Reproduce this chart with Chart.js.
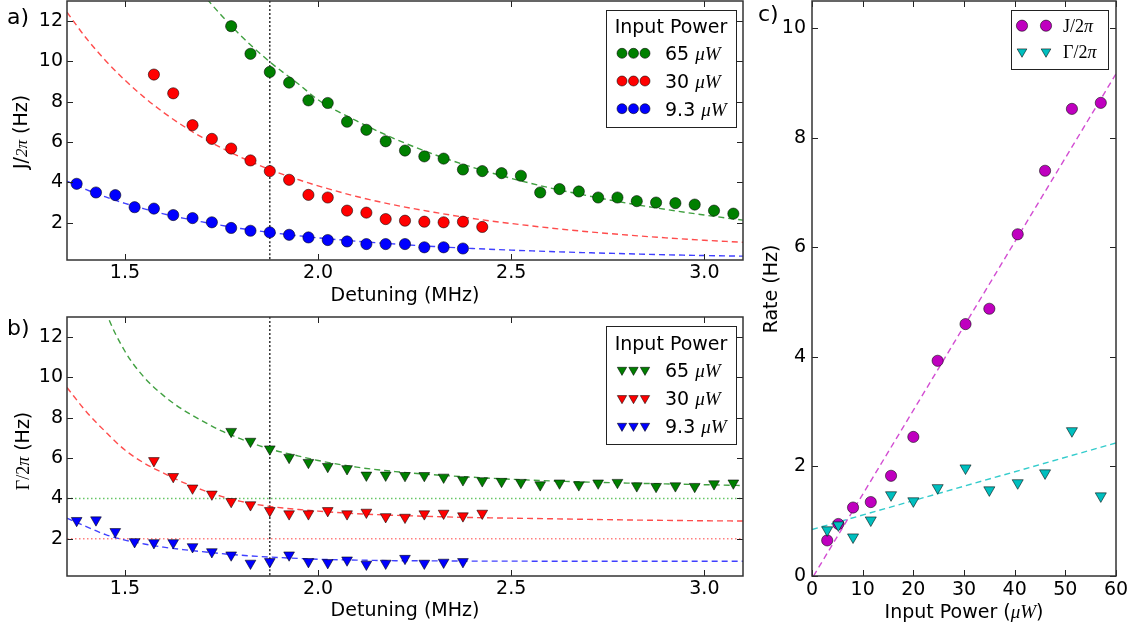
<!DOCTYPE html>
<html>
<head>
<meta charset="utf-8">
<script src="https://cdn.jsdelivr.net/npm/chart.js"></script>
<style>
  body { margin: 0; background: #fff; width: 1135px; height: 626px; overflow: hidden; }
  canvas { position: absolute; }
</style>
</head>
<body>
<canvas id="chartA" width="760" height="316" style="left:0;top:0"></canvas>
<canvas id="chartB" width="760" height="310" style="left:0;top:316px"></canvas>
<canvas id="chartC" width="385" height="626" style="left:750px;top:0"></canvas>
<script>
// ---- data ----
const detuning9 = [1.375, 1.425, 1.475, 1.525, 1.575, 1.625, 1.675, 1.725, 1.775, 1.825, 1.875,
                   1.925, 1.975, 2.025, 2.075, 2.125, 2.175, 2.225, 2.275, 2.325, 2.375];
const detuning30 = [1.575, 1.625, 1.675, 1.725, 1.775, 1.825, 1.875, 1.925, 1.975, 2.025, 2.075,
                    2.125, 2.175, 2.225, 2.275, 2.325, 2.375, 2.425];
const detuning65 = [1.775, 1.825, 1.875, 1.925, 1.975, 2.025, 2.075, 2.125, 2.175, 2.225, 2.275,
                    2.325, 2.375, 2.425, 2.475, 2.525, 2.575, 2.625, 2.675, 2.725, 2.775, 2.825,
                    2.875, 2.925, 2.975, 3.025, 3.075];

// J/2pi (Hz), panel a
const J9 = [3.93, 3.5, 3.37, 2.77, 2.7, 2.38, 2.23, 2.02, 1.74, 1.6, 1.52, 1.4, 1.27, 1.14, 1.07,
            0.94, 0.94, 0.94, 0.78, 0.78, 0.72];
const J30 = [9.35, 8.42, 6.84, 6.16, 5.68, 5.09, 4.56, 4.13, 3.38, 3.25, 2.6, 2.5, 2.18, 2.1, 2.05,
             2.02, 2.05, 1.79];
const J65 = [11.75, 10.38, 9.48, 8.95, 8.07, 7.94, 7.01, 6.61, 6.04, 5.58, 5.29, 5.18, 4.64, 4.56,
             4.46, 4.33, 3.5, 3.67, 3.55, 3.25, 3.25, 3.07, 3.0, 2.97, 2.9, 2.6, 2.45];

// Gamma/2pi (Hz), panel b
const G9 = [2.9, 2.93, 2.35, 1.85, 1.8, 1.8, 1.6, 1.35, 1.19, 0.78, 0.86, 1.19, 0.86, 0.81, 0.94,
            0.73, 0.78, 1.02, 0.78, 0.83, 0.86];
const G30 = [5.87, 5.08, 4.51, 4.21, 3.84, 3.68, 3.39, 3.23, 3.23, 3.39, 3.23, 3.31, 3.09, 3.06,
             3.23, 3.26, 3.13, 3.26];
const G65 = [7.32, 6.83, 6.45, 6.03, 5.78, 5.58, 5.47, 5.15, 5.15, 5.13, 5.13, 5.05, 4.92, 4.87,
             4.84, 4.79, 4.67, 4.76, 4.67, 4.76, 4.79, 4.62, 4.59, 4.62, 4.59, 4.72, 4.76];

// fitted curves, read at these detunings
const fitDetuning = [1.35, 1.4, 1.45, 1.5, 1.55, 1.6, 1.65, 1.7, 1.75, 1.8, 1.875, 1.95, 2.0, 2.1,
                     2.2, 2.3, 2.4, 2.5, 2.6, 2.7, 2.8, 2.9, 3.0, 3.1];
const JFit65 = [26.7, 23.98, 21.58, 19.5, 17.67, 16.06, 14.65, 13.39, 12.28, 11.28, 9.98, 8.87, 8.1,
                7.05, 6.15, 5.39, 4.75, 4.2, 3.73, 3.33, 2.97, 2.66, 2.38, 2.13];
const JFit30 = [12.44, 11.15, 10.04, 9.07, 8.22, 7.47, 6.81, 6.23, 5.71, 5.25, 4.64, 4.13, 3.83,
                3.3, 2.87, 2.52, 2.21, 1.96, 1.74, 1.55, 1.39, 1.25, 1.13, 1.03];
const JFit9 = [4.06, 3.64, 3.28, 2.96, 2.69, 2.44, 2.23, 2.04, 1.87, 1.71, 1.52, 1.35, 1.25, 1.08,
               0.94, 0.82, 0.72, 0.64, 0.57, 0.51, 0.46, 0.41, 0.37, 0.34];
const GFit65 = [21.0, 16.5, 13.3, 11.3, 10.0, 9.1, 8.4, 7.85, 7.35, 6.95, 6.45, 6.1, 5.88, 5.55,
                5.33, 5.17, 5.05, 4.95, 4.87, 4.81, 4.76, 4.72, 4.68, 4.64];
const GFit30 = [9.5, 8.3, 7.3, 6.4, 5.75, 5.25, 4.8, 4.42, 4.1, 3.85, 3.6, 3.45, 3.37, 3.24, 3.16,
                3.1, 3.05, 3.02, 2.99, 2.96, 2.93, 2.91, 2.89, 2.88];
const GFit9 = [3.02, 2.6, 2.2, 1.93, 1.74, 1.58, 1.46, 1.36, 1.26, 1.18, 1.09, 1.02, 0.98, 0.94,
               0.91, 0.9, 0.89, 0.89, 0.88, 0.88, 0.88, 0.88, 0.88, 0.88];

const markedDetuning = 1.875;     // vertical dotted line
const dampingLevels = [4, 2];     // dotted horizontal lines in b (65 uW, 30 uW)

// panel c
const inputPower = [3.0, 5.2, 8.1, 11.6, 15.6, 20.0, 24.8, 30.3, 35.0, 40.6, 46.0, 51.3, 57.0];
const rateJ = [0.65, 0.95, 1.25, 1.35, 1.83, 2.54, 3.93, 4.6, 4.88, 6.24, 7.4, 8.53, 8.64];
const rateGamma = [0.84, 0.93, 0.71, 1.02, 1.48, 1.37, 1.61, 1.97, 1.57, 1.7, 1.88, 2.65, 1.46];
const jFitPower = [0.3, 60], jFitRate = [0, 9.17];
const gFitPower = [0, 60], gFitRate = [0.85, 2.43];

// ticks and labels
const detuningTicks = [1.5, 2.0, 2.5, 3.0];
const rateTicksAB = [2, 4, 6, 8, 10, 12];
const powerTicks = [0, 10, 20, 30, 40, 50, 60];
const rateTicksC = [0, 2, 4, 6, 8, 10];
const powerLabels = ['65', '30', '9.3'];

// ---- styles ----
const GREEN = '#008000', RED = '#ff0000', BLUE = '#0000ff', MAGENTA = '#bf00bf', CYAN = '#00bfbf';
const EDGE = 'rgba(0,0,0,0.55)';
const SANS = '19px "DejaVu Sans"';
const MATH = 'italic 19px "Liberation Serif"';
const SERIF = '18px "Liberation Serif"';
const SERIF_I = 'italic 18px "Liberation Serif"';

function pts(xs, ys) { return xs.map((x, i) => ({ x: x, y: ys[i] })); }

function markers(xs, ys, color, style, r, order) {
  return {
    data: pts(xs, ys), showLine: false, order: order,
    pointStyle: style, pointRadius: r, pointRotation: style === 'triangle' ? 180 : 0,
    pointBackgroundColor: color, pointBorderColor: EDGE, pointBorderWidth: 1
  };
}

function curve(xs, ys, color, dash, width, order) {
  return {
    data: pts(xs, ys), showLine: true, order: order, pointRadius: 0, fill: false,
    borderColor: color, borderWidth: width, borderDash: dash, cubicInterpolationMode: 'monotone'
  };
}

function richText(ctx, segs, x, y, align) {
  let w = 0;
  segs.forEach(s => { ctx.font = s[1]; w += ctx.measureText(s[0]).width; });
  let cx = align === 'center' ? x - w / 2 : x;
  ctx.textAlign = 'left';
  ctx.textBaseline = 'alphabetic';
  ctx.fillStyle = '#000';
  segs.forEach(s => { ctx.font = s[1]; ctx.fillText(s[0], cx, y); cx += ctx.measureText(s[0]).width; });
}

function drawMarker(ctx, kind, x, y, r, color) {
  ctx.beginPath();
  if (kind === 'circle') {
    ctx.arc(x, y, r, 0, Math.PI * 2);
  } else {
    ctx.moveTo(x, y + r);
    ctx.lineTo(x - r * 0.866, y - r / 2);
    ctx.lineTo(x + r * 0.866, y - r / 2);
    ctx.closePath();
  }
  ctx.fillStyle = color;
  ctx.fill();
  ctx.strokeStyle = EDGE;
  ctx.lineWidth = 1;
  ctx.stroke();
}

// frame, inward ticks, titles, legend, panel letter
function makeDecor(d) {
  return {
    id: 'decor',
    afterDraw(chart) {
      const ctx = chart.ctx, a = chart.chartArea;
      const xs = chart.scales.x, ys = chart.scales.y;
      ctx.save();
      ctx.strokeStyle = '#222';
      ctx.lineWidth = 1;
      ctx.beginPath();
      xs.ticks.forEach(t => {
        const p = Math.round(xs.getPixelForValue(t.value)) + 0.5;
        ctx.moveTo(p, a.bottom); ctx.lineTo(p, a.bottom - 6);
        ctx.moveTo(p, a.top); ctx.lineTo(p, a.top + 6);
      });
      ys.ticks.forEach(t => {
        const p = Math.round(ys.getPixelForValue(t.value)) + 0.5;
        ctx.moveTo(a.left, p); ctx.lineTo(a.left + 6, p);
        ctx.moveTo(a.right, p); ctx.lineTo(a.right - 6, p);
      });
      ctx.stroke();

      ctx.lineWidth = 1.5;
      ctx.strokeStyle = '#333';
      ctx.strokeRect(a.left, a.top, a.right - a.left, a.bottom - a.top);

      // axis titles
      richText(ctx, d.xTitle, (a.left + a.right) / 2, d.xTitleY, 'center');
      ctx.save();
      ctx.translate(d.yTitleX, d.yTitleY);
      ctx.rotate(-Math.PI / 2);
      richText(ctx, d.yTitle, 0, 0, 'center');
      ctx.restore();

      // panel letter
      richText(ctx, [[d.label, '22px "DejaVu Sans"']], d.labelX, d.labelY, 'left');

      // legend
      const L = d.legend;
      ctx.fillStyle = '#fff';
      ctx.fillRect(L.x, L.y, L.w, L.h);
      ctx.lineWidth = 1;
      ctx.strokeStyle = '#222';
      ctx.strokeRect(L.x + 0.5, L.y + 0.5, L.w, L.h);
      if (L.title) richText(ctx, [[L.title, SANS]], L.x + L.w / 2, L.titleY, 'center');
      L.rows.forEach((ry, i) => {
        L.mx.forEach(mx => drawMarker(ctx, L.kinds[i], mx, ry, L.r, L.colors[i]));
        richText(ctx, L.texts[i], L.lx, ry + L.textDy, 'left');
      });
      ctx.restore();
    }
  };
}

function axis(a, dir) {
  return {
    type: 'linear', min: a.min, max: a.max,
    grid: { display: false, drawTicks: false },
    border: { display: false },
    ticks: { color: '#000', font: { family: 'DejaVu Sans', size: 19 }, padding: a.pad, callback: a.fmt },
    afterBuildTicks: s => { s.ticks = a.ticks.map(v => ({ value: v })); },
    afterFit: s => {
      if (dir === 'x') s.height = a.size; else s.width = a.size;
      // keep the plot box where the figure has it
      s.paddingTop = 0; s.paddingBottom = 0; s.paddingLeft = 0; s.paddingRight = 0;
    }
  };
}

function panel(id, cfg) {
  return new Chart(document.getElementById(id), {
    type: 'scatter',
    data: { datasets: cfg.datasets },
    options: {
      responsive: false, animation: false, events: [], devicePixelRatio: 1,
      layout: { padding: cfg.padding, autoPadding: false },
      plugins: { legend: { display: false }, tooltip: { enabled: false } },
      scales: { x: axis(cfg.x, 'x'), y: axis(cfg.y, 'y') }
    },
    plugins: [makeDecor(cfg.decor)]
  });
}

const powerTexts = powerLabels.map(p => [[p + ' ', SANS], ['\u03bcW', MATH]]);
const detAxis = { min: 1.35, max: 3.1, ticks: detuningTicks, pad: 2, size: 56, fmt: v => v.toFixed(1) };
const rateAxis = { min: 0.15, max: 13, ticks: rateTicksAB, pad: 4, size: 67, fmt: v => v };

// ---- panel a ----
panel('chartA', {
  padding: { left: 0, right: 17, top: 1, bottom: 0 },
  x: detAxis, y: rateAxis,
  datasets: [
    markers(detuning65, J65, GREEN, 'circle', 5.6, 0),
    markers(detuning30, J30, RED, 'circle', 5.6, 0),
    markers(detuning9, J9, BLUE, 'circle', 5.6, 0),
    curve(fitDetuning, JFit65, 'rgba(0,128,0,0.75)', [6, 4], 1.4, 2),
    curve(fitDetuning, JFit30, 'rgba(255,0,0,0.7)', [6, 4], 1.4, 2),
    curve(fitDetuning, JFit9, 'rgba(0,0,255,0.75)', [6, 4], 1.4, 2),
    curve([markedDetuning, markedDetuning], [0, 13], '#333', [2, 2], 1.5, 3)
  ],
  decor: {
    label: 'a)', labelX: 7, labelY: 23.5,
    xTitle: [['Detuning (MHz)', SANS]], xTitleY: 300.5,
    yTitle: [['J/', SANS], ['2\u03c0', 'italic 17px "Liberation Serif"'], [' (Hz)', SANS]],
    yTitleX: 27, yTitleY: 132,
    legend: {
      x: 606, y: 10, w: 130, h: 117, title: 'Input Power', titleY: 32.7,
      rows: [53.3, 81, 108.7], mx: [622, 633.5, 645], lx: 665, textDy: 7, r: 5,
      kinds: ['circle', 'circle', 'circle'], colors: [GREEN, RED, BLUE], texts: powerTexts
    }
  }
});

// ---- panel b ----
panel('chartB', {
  padding: { left: 0, right: 17, top: 1, bottom: 0 },
  x: Object.assign({}, detAxis, { size: 50 }), y: rateAxis,
  datasets: [
    markers(detuning65, G65, GREEN, 'triangle', 6.2, 0),
    markers(detuning30, G30, RED, 'triangle', 6.2, 0),
    markers(detuning9, G9, BLUE, 'triangle', 6.2, 0),
    curve(fitDetuning, GFit65, 'rgba(0,128,0,0.75)', [6, 4], 1.4, 2),
    curve(fitDetuning, GFit30, 'rgba(255,0,0,0.7)', [6, 4], 1.4, 2),
    curve(fitDetuning, GFit9, 'rgba(0,0,255,0.75)', [6, 4], 1.4, 2),
    curve([1.35, 3.1], [dampingLevels[0], dampingLevels[0]], 'rgba(0,160,0,0.6)', [1.5, 2.5], 1.5, 3),
    curve([1.35, 3.1], [dampingLevels[1], dampingLevels[1]], 'rgba(255,0,0,0.5)', [1.5, 2.5], 1.5, 3),
    curve([markedDetuning, markedDetuning], [0, 13], '#333', [2, 2], 1.5, 3)
  ],
  decor: {
    label: 'b)', labelX: 7, labelY: 19,
    xTitle: [['Detuning (MHz)', SANS]], xTitleY: 299.5,
    yTitle: [['\u0393/2', SERIF], ['\u03c0', SERIF_I], [' (Hz)', SANS]],
    yTitleX: 29, yTitleY: 135,
    legend: {
      x: 606, y: 10, w: 130, h: 118, title: 'Input Power', titleY: 34,
      rows: [54, 82.3, 110], mx: [622, 633.5, 645], lx: 665, textDy: 7, r: 5.4,
      kinds: ['triangle', 'triangle', 'triangle'], colors: [GREEN, RED, BLUE], texts: powerTexts
    }
  }
});

// ---- panel c ----
panel('chartC', {
  padding: { left: 0, right: 19, top: 1, bottom: 0 },
  x: { min: 0, max: 60, ticks: powerTicks, pad: 3, size: 50, fmt: v => v },
  y: { min: 0, max: 10.5, ticks: rateTicksC, pad: 6, size: 62, fmt: v => v },
  datasets: [
    markers(inputPower, rateGamma, CYAN, 'triangle', 6.4, 0),
    markers(inputPower, rateJ, MAGENTA, 'circle', 5.6, 1),
    curve(jFitPower, jFitRate, 'rgba(191,0,191,0.7)', [6, 4], 1.4, 2),
    curve(gFitPower, gFitRate, 'rgba(0,191,191,0.8)', [6, 4], 1.4, 2)
  ],
  decor: {
    label: 'c)', labelX: 8, labelY: 20.7,
    xTitle: [['Input Power (', SANS], ['\u03bcW', MATH], [')', SANS]], xTitleY: 617.5,
    yTitle: [['Rate (Hz)', SANS]],
    yTitleX: 26.5, yTitleY: 289,
    legend: {
      x: 261, y: 10, w: 97, h: 59, title: null,
      rows: [25.7, 51.7], mx: [272, 296], lx: 313, textDy: 6, r: 5.6,
      kinds: ['circle', 'triangle'], colors: [MAGENTA, CYAN],
      texts: [[['J/2', SERIF], ['\u03c0', SERIF_I]], [['\u0393/2', SERIF], ['\u03c0', SERIF_I]]]
    }
  }
});
</script>
</body>
</html>
